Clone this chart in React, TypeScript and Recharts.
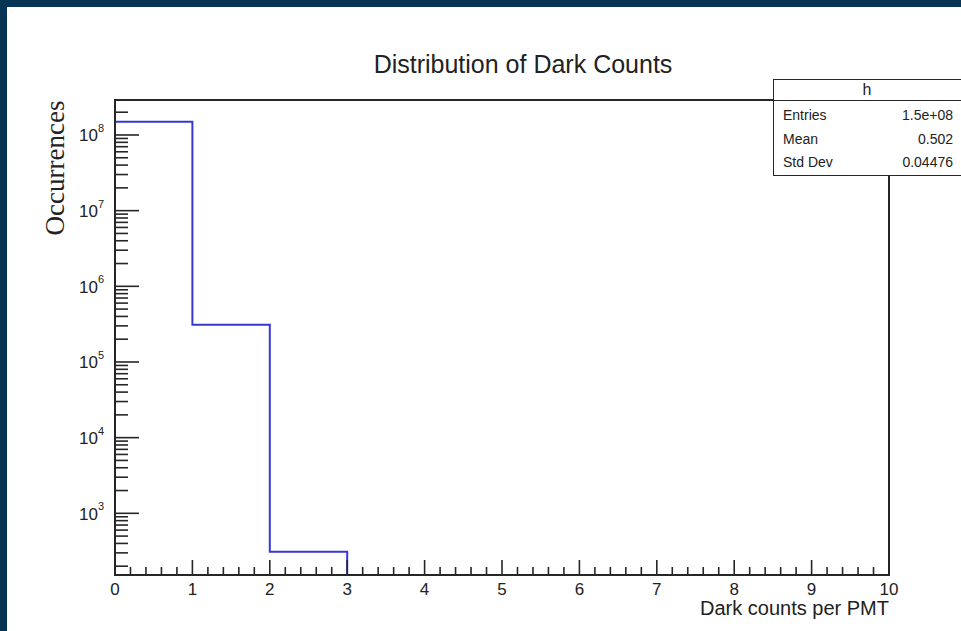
import { ComposedChart, Line, ReferenceArea, XAxis, YAxis } from 'recharts';

// histogram bins (low edges) and their contents
const binEdges = [0, 1, 2, 3];
const binCounts = [1.5e8, 3.1e5, 310];

const xMajorLabels = [0, 1, 2, 3, 4, 5, 6, 7, 8, 9, 10];
const yDecades = [3, 4, 5, 6, 7, 8];

const statsTitle = 'h';
const statsNames = ['Entries', 'Mean', 'Std Dev'];
const statsValues = ['1.5e+08', '0.502', '0.04476'];

const Y_MIN = 153;
const Y_MAX = 2.9e8;

const AXIS_COLOR = '#262626';
const TEXT_COLOR = '#222222';
const HIST_COLOR = '#3737d2';
const SANS = '"Liberation Sans", Arial, Helvetica, sans-serif';

// empty bin after the last filled one closes the step down to the axis
const histData = binEdges.map((x, i) => ({
  x,
  count: i < binCounts.length ? binCounts[i] : Y_MIN
}));

const xTicks: number[] = [];
for (let i = 0; i <= xMajorLabels[xMajorLabels.length - 1] * 5; i++) xTicks.push(i / 5);

const yTicks: number[] = [];
for (let d = yDecades[0] - 1; d <= yDecades[yDecades.length - 1]; d++) {
  for (let m = 1; m <= 9; m++) {
    const v = m * 10 ** d;
    if (v >= Y_MIN && v <= Y_MAX) yTicks.push(v);
  }
}

const XTick = (props: any) => {
  const { x, y, payload } = props;
  const major = Number.isInteger(payload.value);
  return (
    <g>
      <line x1={x} x2={x} y1={y} y2={y - (major ? 15 : 8)} stroke={AXIS_COLOR} strokeWidth={1.6} />
      {major && (
        <text x={x} y={y + 14} textAnchor="middle" dominantBaseline="central" fontSize={17} fontFamily={SANS} fill={TEXT_COLOR}>
          {payload.value}
        </text>
      )}
    </g>
  );
};

const YTick = (props: any) => {
  const { x, y, payload } = props;
  const lg = Math.log10(payload.value);
  const exp = Math.round(lg);
  const major = Math.abs(lg - exp) < 1e-9;
  return (
    <g>
      <line x1={x} x2={x + (major ? 24 : 13)} y1={y} y2={y} stroke={AXIS_COLOR} strokeWidth={1.6} />
      {major && (
        <text x={x - 11} y={y + 1} textAnchor="end" dominantBaseline="central" fontSize={17} fontFamily={SANS} fill={TEXT_COLOR}>
          10
          <tspan dy={-8} fontSize={11}>
            {exp}
          </tspan>
        </text>
      )}
    </g>
  );
};

export default function App() {
  return (
    <div style={{ position: 'absolute', left: 0, top: 0, width: 961, height: 631, overflow: 'hidden', background: '#053454' }}>
      <div style={{ position: 'absolute', left: 7, top: 7, right: 0, bottom: 0, background: '#ffffff' }} />

      <div style={{ position: 'absolute', left: 0, top: 0 }}>
        <ComposedChart width={961} height={631} data={histData} margin={{ top: 100, right: 72, bottom: 16, left: 55 }}>
          <XAxis
            type="number"
            dataKey="x"
            domain={[0, 10]}
            ticks={xTicks}
            interval={0}
            height={40}
            tickSize={0}
            tickMargin={0}
            tickLine={false}
            tick={<XTick />}
            axisLine={{ stroke: AXIS_COLOR, strokeWidth: 2 }}
          />
          <YAxis
            type="number"
            scale="log"
            domain={[Y_MIN, Y_MAX]}
            allowDataOverflow
            ticks={yTicks}
            interval={0}
            width={60}
            tickSize={0}
            tickMargin={0}
            tickLine={false}
            tick={<YTick />}
            axisLine={{ stroke: AXIS_COLOR, strokeWidth: 2 }}
          />
          <ReferenceArea x1={0} x2={10} y1={Y_MIN} y2={Y_MAX} fill="none" stroke={AXIS_COLOR} strokeWidth={2} />
          <Line
            type="stepAfter"
            dataKey="count"
            stroke={HIST_COLOR}
            strokeWidth={2}
            dot={false}
            activeDot={false}
            isAnimationActive={false}
          />
        </ComposedChart>
      </div>

      <div
        style={{
          position: 'absolute',
          left: 323,
          top: 50,
          width: 400,
          textAlign: 'center',
          fontFamily: SANS,
          fontSize: 25,
          lineHeight: '28px',
          color: TEXT_COLOR
        }}
      >
        Distribution of Dark Counts
      </div>

      <div
        style={{
          position: 'absolute',
          left: 55,
          top: 168,
          transform: 'translate(-50%, -50%) rotate(-90deg)',
          whiteSpace: 'nowrap',
          fontFamily: '"Liberation Serif", "Times New Roman", serif',
          fontSize: 27,
          lineHeight: '30px',
          color: TEXT_COLOR
        }}
      >
        Occurrences
      </div>

      <div
        style={{
          position: 'absolute',
          left: 0,
          top: 597,
          width: 889,
          textAlign: 'right',
          fontFamily: SANS,
          fontSize: 20,
          lineHeight: '22px',
          color: TEXT_COLOR
        }}
      >
        Dark counts per PMT
      </div>

      <div
        style={{
          position: 'absolute',
          left: 773,
          top: 79,
          width: 194,
          boxSizing: 'border-box',
          border: `1.5px solid ${AXIS_COLOR}`,
          background: '#ffffff',
          fontFamily: SANS,
          color: TEXT_COLOR
        }}
      >
        <div style={{ height: 20, lineHeight: '20px', textAlign: 'center', fontSize: 16, borderBottom: `1.5px solid ${AXIS_COLOR}`, paddingRight: 6 }}>
          {statsTitle}
        </div>
        <div style={{ paddingTop: 3, paddingBottom: 0 }}>
          {statsNames.map((name, i) => (
            <div key={name} style={{ display: 'flex', justifyContent: 'space-between', height: 23.5, lineHeight: '23.5px', fontSize: 14, paddingLeft: 9, paddingRight: 13 }}>
              <span>{name}</span>
              <span>{statsValues[i]}</span>
            </div>
          ))}
        </div>
      </div>
    </div>
  );
}
